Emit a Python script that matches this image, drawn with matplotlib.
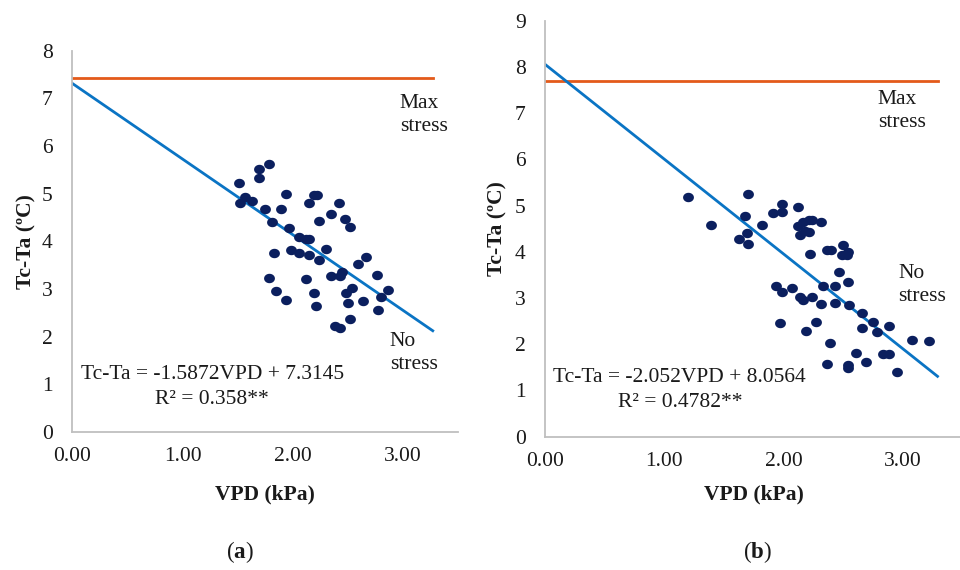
import matplotlib
matplotlib.use("Agg")
import matplotlib.pyplot as plt
import numpy as np
from matplotlib.path import Path

plt.rcParams['font.family'] = ['Liberation Serif', 'DejaVu Serif']
plt.rcParams['mathtext.fontset'] = 'custom'
plt.rcParams['mathtext.rm'] = 'Liberation Serif'
plt.rcParams['mathtext.bf'] = 'Liberation Serif:bold'

# panel (a) data
vpd_a = [1.51, 1.52, 1.57, 1.63, 1.69, 1.69, 1.78, 1.75, 1.81, 1.83, 1.78, 1.85,
         1.94, 1.89, 1.97, 1.98, 1.94, 2.06, 2.06, 2.12, 2.15, 2.15, 2.12, 2.15,
         2.19, 2.22, 2.24, 2.24, 2.19, 2.21, 2.30, 2.35, 2.35, 2.42, 2.47, 2.52,
         2.43, 2.45, 2.48, 2.50, 2.54, 2.52, 2.38, 2.43, 2.59, 2.66, 2.64, 2.76,
         2.80, 2.77, 2.86]
tcta_a = [5.22, 4.80, 4.93, 4.85, 5.52, 5.33, 5.63, 4.68, 4.41, 3.76, 3.24, 2.96,
          4.99, 4.68, 4.28, 3.82, 2.76, 4.09, 3.76, 4.05, 4.05, 3.71, 3.21, 4.80,
          4.98, 4.98, 4.43, 3.61, 2.92, 2.64, 3.84, 4.57, 3.28, 4.80, 4.47, 4.30,
          3.28, 3.35, 2.92, 2.71, 3.03, 2.37, 2.22, 2.19, 3.53, 3.67, 2.75, 3.30,
          2.83, 2.57, 2.98]

# panel (b) data
vpd_b = [1.20, 1.39, 1.70, 1.68, 1.63, 1.69, 1.70, 1.82, 1.91, 1.99, 1.99, 2.12,
         2.12, 2.16, 2.14, 2.21, 2.24, 2.31, 2.21, 2.18, 2.22, 2.36, 2.40, 2.50,
         2.49, 2.53, 2.54, 2.46, 2.54, 1.94, 1.99, 2.07, 2.14, 2.16, 2.24, 2.31,
         2.33, 2.43, 2.43, 2.55, 2.66, 2.75, 2.66, 2.78, 2.88, 1.97, 2.19, 2.27,
         2.39, 2.36, 2.54, 2.54, 2.61, 2.69, 2.83, 2.88, 2.95, 3.08, 3.22]
tcta_b = [5.18, 4.58, 5.24, 4.78, 4.27, 4.40, 4.17, 4.58, 4.83, 5.04, 4.86, 4.96,
          4.56, 4.64, 4.36, 4.68, 4.68, 4.64, 4.43, 4.46, 3.96, 4.04, 4.04, 4.15,
          3.92, 3.92, 3.99, 3.56, 3.34, 3.27, 3.14, 3.21, 3.02, 2.96, 3.02, 2.88,
          3.26, 3.26, 2.90, 2.84, 2.67, 2.49, 2.36, 2.26, 2.39, 2.46, 2.28, 2.49,
          2.03, 1.58, 1.54, 1.48, 1.82, 1.61, 1.78, 1.79, 1.39, 2.10, 2.07]

slope_a, icpt_a = -1.5872, 7.3145
slope_b, icpt_b = -2.052, 8.0564
max_a = 7.42
max_b = 7.70
line_end_a = 3.27
line_end_b = 3.29

navy = '#0B1F5E'
blue = '#0A74C4'
orange = '#E35A1A'
grey = '#BFBFBF'
txt = '#1a1a1a'
fs = 15.5

# slightly wide ellipse marker, like the stretched original
t = np.linspace(0, 2 * np.pi, 60)
ellipse = Path(np.column_stack([1.15 * np.cos(t), np.sin(t)]), closed=True)

fig = plt.figure(figsize=(9.6, 5.7), dpi=100)


def panel(rect, vpd, tcta, slope, icpt, mx, xend, ymax, eq, r2, eq_pos, maxpos, nopos, lbl_x, xlab_y):
    ax = fig.add_axes(rect)
    ax.plot([0, xend], [mx, mx], color=orange, lw=2.0, zorder=2)
    xs = np.array([0, xend])
    ax.plot(xs, icpt + slope * xs, color=blue, lw=2.0, zorder=2)
    ax.plot(vpd, tcta, linestyle='none', marker=ellipse, markersize=7.8,
            color=navy, markeredgewidth=0, zorder=3)
    ax.set_xlim(0, 3.5)
    ax.set_ylim(0, ymax)
    ax.set_xticks([0, 1, 2, 3])
    ax.set_xticklabels(['0.00', '1.00', '2.00', '3.00'])
    ax.set_yticks(range(ymax + 1))
    ax.tick_params(length=0, labelsize=fs, colors=txt)
    ax.tick_params(axis='y', pad=14)
    ax.tick_params(axis='x', pad=11)
    for s in ['top', 'right']:
        ax.spines[s].set_visible(False)
    for s in ['left', 'bottom']:
        ax.spines[s].set_color(grey)
        ax.spines[s].set_linewidth(1.3)
    ax.set_xlabel('VPD (kPa)', fontsize=fs, fontweight='bold', color=txt)
    ax.set_ylabel('Tc-Ta (ºC)', fontsize=fs, fontweight='bold', color=txt)
    ax.yaxis.set_label_coords(lbl_x, 0.5)
    ax.xaxis.set_label_coords(0.5, xlab_y)
    ax.text(eq_pos[0], eq_pos[1], eq, ha='center', va='center', fontsize=fs, color=txt)
    ax.text(eq_pos[0], eq_pos[2], r2, ha='center', va='center', fontsize=fs, color=txt)
    ax.text(maxpos[0], maxpos[1], 'Max\nstress', ha='left', va='center', fontsize=fs,
            linespacing=1.3, color=txt)
    ax.text(nopos[0], nopos[1], 'No\nstress', ha='left', va='center', fontsize=fs,
            linespacing=1.3, color=txt)
    return ax


panel([0.0753, 0.2421, 0.4019, 0.6689], vpd_a, tcta_a, slope_a, icpt_a, max_a, line_end_a, 8,
      'Tc-Ta = -1.5872VPD + 7.3145', 'R² = 0.358**', (1.27, 1.20, 0.68),
      (2.97, 6.65), (2.88, 1.66), -0.093, -0.137)
panel([0.5677, 0.2339, 0.4350, 0.7298], vpd_b, tcta_b, slope_b, icpt_b, max_b, line_end_b, 9,
      'Tc-Ta = -2.052VPD + 8.0564', 'R² = 0.4782**', (1.13, 1.29, 0.74),
      (2.79, 7.05), (2.96, 3.29), -0.091, -0.114)

fig.text(0.25, 0.032, r'($\mathbf{a}$)', ha='center', va='center', fontsize=16.5, color=txt)
fig.text(0.789, 0.032, r'($\mathbf{b}$)', ha='center', va='center', fontsize=16.5, color=txt)

fig.savefig('out.png', dpi=100, facecolor='white')
